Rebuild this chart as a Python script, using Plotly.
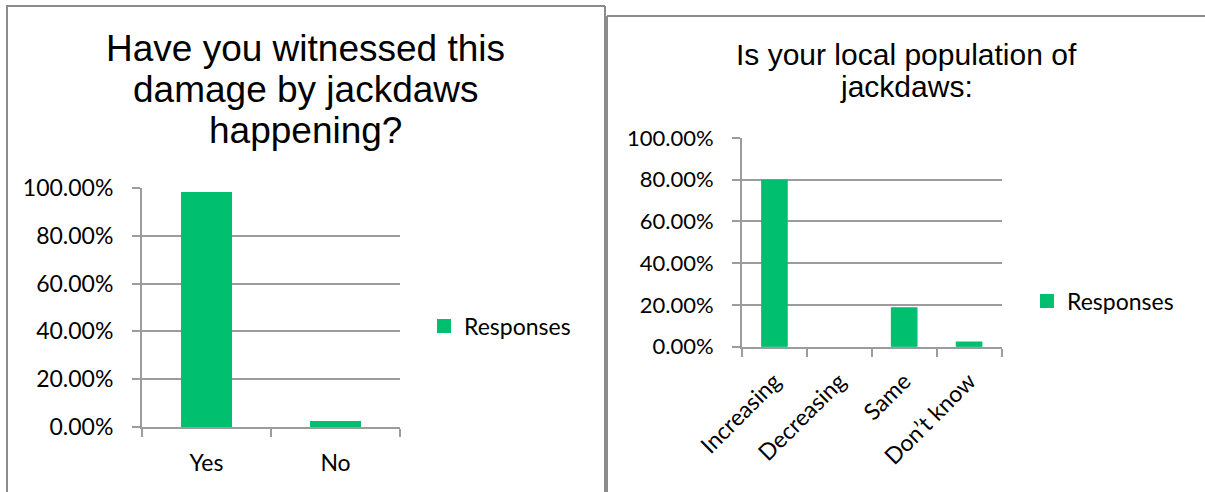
import plotly.graph_objects as go
from plotly.subplots import make_subplots

# survey answers (share of responses)
q1_title = ["Have you witnessed this", "damage by jackdaws", "happening?"]
q1_categories = ["Yes", "No"]
q1_responses = [0.9796, 0.0204]

q2_title = ["Is your local population of", "jackdaws:"]
q2_categories = ["Increasing", "Decreasing", "Same", "Don’t know"]
q2_responses = [0.7959, 0.0, 0.1837, 0.0204]

y_ticks = [0, 0.2, 0.4, 0.6, 0.8, 1.0]
series_name = "Responses"

W, H = 1205, 492
GREEN = "#00BF6F"
GRID = "#9C9C9C"
FRAME = "#8C8C8C"
LABEL_FONT = dict(family="Lato", size=23, color="black")
TITLE_FONT = "Liberation Sans"


def fx(x):
    return x / W


def fy(y):
    return 1 - y / H


def bar_style(values):
    # thin outline in the fill colour (bigger legend swatch), none on empty bars
    return dict(color=GREEN,
                line=dict(color=GREEN, width=[2 if v > 0 else 0 for v in values]))


fig = make_subplots(rows=1, cols=2)

fig.add_trace(go.Bar(x=q1_categories, y=q1_responses, name=series_name,
                     marker=bar_style(q1_responses), legend="legend"), row=1, col=1)
fig.add_trace(go.Bar(x=q2_categories, y=q2_responses, name=series_name,
                     marker=bar_style(q2_responses), legend="legend2"), row=1, col=2)

axis_common = dict(showline=True, linecolor=GRID, linewidth=2, automargin=False,
                   ticks="outside", ticklen=8, tickcolor=GRID, tickwidth=2,
                   tickfont=LABEL_FONT)

fig.update_xaxes(**axis_common, tickson="boundaries", showgrid=False)
fig.update_yaxes(**axis_common, range=[0, 1], tickvals=y_ticks, tickformat=".2%",
                 showgrid=True, gridcolor=GRID, gridwidth=2, zeroline=False,
                 ticklabelstandoff=14)

fig.update_layout(
    xaxis=dict(domain=[fx(142), fx(400)], ticklabelstandoff=14),
    yaxis=dict(domain=[fy(427), fy(188)]),
    xaxis2=dict(domain=[fx(742), fx(1001.5)], tickangle=-45, ticklabelstandoff=10),
    yaxis2=dict(domain=[fy(346.7), fy(138)], tickfont=dict(size=22)),
)

# chart frames
frame_lines = [
    (6, 6, 605, 6), (7, 6, 7, H), (605, 6, 605, H),
    (607, 16, W, 16), (607, 16, 607, H),
]
for x0, y0, x1, y1 in frame_lines:
    fig.add_shape(type="line", xref="paper", yref="paper",
                  x0=fx(x0), y0=fy(y0), x1=fx(x1), y1=fy(y1),
                  line=dict(color=FRAME, width=2))

# titles, one annotation per line to keep Excel's tight line spacing
for i, line in enumerate(q1_title):
    fig.add_annotation(text=line, xref="paper", yref="paper", x=fx(305.5),
                       y=fy(61 + 41 * i - 12.8), xanchor="center", yanchor="middle",
                       showarrow=False, font=dict(family=TITLE_FONT, size=37, color="black"))
for i, line in enumerate(q2_title):
    fig.add_annotation(text=line, xref="paper", yref="paper", x=fx(906.5),
                       y=fy(65 + 32 * i - 10.4), xanchor="center", yanchor="middle",
                       showarrow=False, font=dict(family=TITLE_FONT, size=30, color="black"))

legend_common = dict(xanchor="left", yanchor="middle", bgcolor="rgba(0,0,0,0)",
                     font=LABEL_FONT, borderwidth=0)

fig.update_layout(
    width=W, height=H,
    margin=dict(l=0, r=0, t=0, b=0, autoexpand=False),
    paper_bgcolor="white", plot_bgcolor="white",
    bargap=0.62,
    showlegend=True,
    legend=dict(x=fx(424), y=fy(326), **legend_common),
    legend2=dict(x=fx(1027), y=fy(301), **legend_common),
)

# drop the browser's default 8px body margin so the figure fills the window
fig.write_html("out.html", config={"displayModeBar": False},
               post_script="document.body.style.margin = '0';")
